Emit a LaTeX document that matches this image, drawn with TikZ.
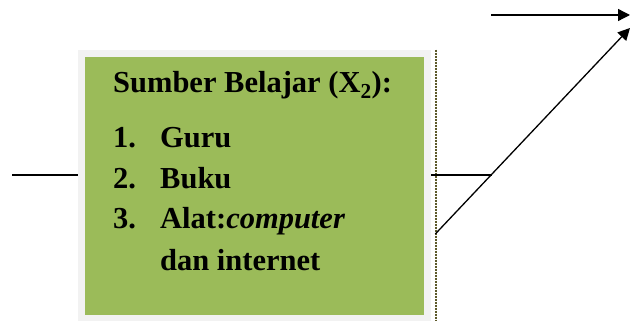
\documentclass[tikz,border=0pt]{standalone}
\usepackage{fontspec}
\setmainfont{Liberation Serif}
\usepackage{xcolor}
\usetikzlibrary{arrows.meta}

\definecolor{hijau}{HTML}{9BBB59}
\definecolor{bingkai}{HTML}{F2F2F2}

\tikzset{
	kotak/.style={fill=hijau, draw=bingkai, line width=7.5pt, minimum width=346.25pt, minimum height=265pt, inner sep=0pt},
	isi/.style={anchor=base west, inner sep=0pt, font=\fontsize{30.5}{36}\selectfont\bfseries},
	garis/.style={line width=1.3pt},
	panah/.style={line width=1.3pt, -{Triangle[length=12pt,width=12pt]}},
	bayang/.style={densely dotted, line width=2pt, black!45!olive}
}

\begin{document}
\begin{tikzpicture}[x=1pt,y=1pt]
	\useasboundingbox (0,0) rectangle (630,321);
	\node[kotak] at (254.4,135) (sumber) {};
	\draw [bayang] ([xshift=4.5pt]sumber.north east) -- ([xshift=4.5pt,yshift=-2pt]sumber.south east);
	\node[isi] at (113,228) (judul) {Sumber Belajar (X\textsubscript{2}):};
	\node[isi] at (113,173) (n1) {1.};
	\node[isi] at (160,173) (guru) {Guru};
	\node[isi] at (113,132) (n2) {2.};
	\node[isi] at (160,132) (buku) {Buku};
	\node[isi] at (113,92) (n3) {3.};
	\node[isi] at (160,92) (alat) {Alat:\textit{computer}};
	\node[isi] at (160,50) (internet) {dan internet};
	\coordinate (kiri) at (12,146);
	\coordinate (kanan) at (492,146);
	\coordinate (atas) at (491,306);
	\coordinate (hasil) at (630,306);
	\coordinate (ujung) at (630,293);
	\draw [garis] (kiri) -- (sumber.west |- kiri);
	\draw [garis] (sumber.east |- kanan) -- (kanan);
	\draw [panah] ([xshift=4pt,yshift=-48pt]sumber.east) -- (ujung);
	\draw [panah] (atas) -- (hasil);
\end{tikzpicture}
\end{document}
